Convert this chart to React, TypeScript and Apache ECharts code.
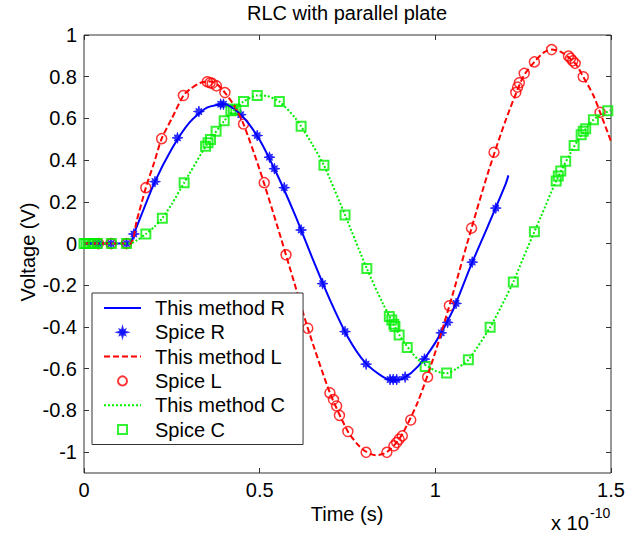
import React, { useEffect, useRef } from 'react';
import * as echarts from 'echarts';

const FONT = '"Liberation Sans", Arial, Helvetica, sans-serif';

const legendNames = ['This method R', 'Spice R', 'This method L', 'Spice L', 'This method C', 'Spice C'];
const xTicks = [0, 0.5, 1, 1.5];
const yTicks = [-1, -0.8, -0.6, -0.4, -0.2, 0, 0.2, 0.4, 0.6, 0.8, 1];

const methodR: [number, number][] = [
  [0, 0], [0.13, 0], [0.142, 0.046], [0.2, 0.29], [0.25, 0.455], [0.3, 0.58], [0.35, 0.652], [0.4, 0.668],
  [0.45, 0.612], [0.5, 0.497], [0.55, 0.33], [0.6, 0.14], [0.65, -0.07], [0.7, -0.27], [0.75, -0.445],
  [0.8, -0.57], [0.85, -0.638], [0.88, -0.655], [0.91, -0.645], [0.95, -0.59], [1.0, -0.475], [1.05, -0.32],
  [1.1, -0.11], [1.15, 0.085], [1.2, 0.285], [1.208, 0.327],
];
const spiceR: [number, number][] = [
  [0.041, 0], [0.077, 0], [0.121, 0], [0.142, 0.046], [0.202, 0.297], [0.266, 0.507], [0.327, 0.633],
  [0.389, 0.668], [0.397, 0.668], [0.446, 0.618], [0.493, 0.518], [0.528, 0.414], [0.542, 0.359],
  [0.57, 0.268], [0.618, 0.065], [0.679, -0.192], [0.743, -0.422], [0.803, -0.578], [0.871, -0.652],
  [0.88, -0.652], [0.89, -0.652], [0.914, -0.64], [0.969, -0.554], [1.017, -0.428], [1.035, -0.378],
  [1.059, -0.287], [1.105, -0.089], [1.172, 0.17],
];
const methodL: [number, number][] = [
  [0, 0], [0.13, 0], [0.15, 0.11], [0.176, 0.268], [0.2, 0.39], [0.221, 0.503], [0.25, 0.6], [0.283, 0.71],
  [0.3, 0.738], [0.33, 0.77], [0.36, 0.777], [0.38, 0.762], [0.4, 0.726], [0.43, 0.655], [0.454, 0.573],
  [0.5, 0.354], [0.55, 0.085], [0.6, -0.196], [0.637, -0.406], [0.7, -0.716], [0.751, -0.901], [0.78, -0.965],
  [0.803, -0.998], [0.83, -1.015], [0.862, -1.0], [0.9, -0.93], [0.95, -0.76], [1.0, -0.52], [1.05, -0.24],
  [1.103, 0.074], [1.15, 0.34], [1.2, 0.59], [1.25, 0.8], [1.282, 0.871], [1.31, 0.918], [1.331, 0.93],
  [1.36, 0.917], [1.398, 0.864], [1.421, 0.8], [1.45, 0.71], [1.469, 0.629], [1.5, 0.49],
];
const spiceL: [number, number][] = [
  [0.041, 0], [0.077, 0], [0.121, 0], [0.176, 0.268], [0.221, 0.503], [0.283, 0.71], [0.351, 0.776],
  [0.359, 0.771], [0.365, 0.768], [0.377, 0.756], [0.401, 0.724], [0.454, 0.573], [0.513, 0.292],
  [0.575, -0.054], [0.637, -0.406], [0.7, -0.716], [0.71, -0.748], [0.719, -0.779], [0.727, -0.824],
  [0.751, -0.901], [0.803, -1.001], [0.862, -1.001], [0.882, -0.97], [0.89, -0.954], [0.897, -0.938],
  [0.906, -0.922], [0.93, -0.846], [0.978, -0.64], [1.04, -0.298], [1.103, 0.074], [1.167, 0.438],
  [1.229, 0.724], [1.234, 0.75], [1.239, 0.771], [1.253, 0.816], [1.282, 0.871], [1.331, 0.93],
  [1.379, 0.899], [1.385, 0.888], [1.391, 0.876], [1.398, 0.864], [1.421, 0.8], [1.469, 0.629],
];
const methodC: [number, number][] = [
  [0, 0], [0.13, 0], [0.15, 0.015], [0.176, 0.046], [0.2, 0.08], [0.223, 0.122], [0.25, 0.19], [0.285, 0.292],
  [0.3, 0.335], [0.35, 0.475], [0.4, 0.59], [0.43, 0.645], [0.454, 0.681], [0.493, 0.71], [0.52, 0.708],
  [0.556, 0.681], [0.6, 0.605], [0.618, 0.562], [0.65, 0.475], [0.683, 0.375], [0.7, 0.31], [0.743, 0.137],
  [0.805, -0.12], [0.85, -0.285], [0.9, -0.445], [0.95, -0.555], [1.0, -0.61], [1.032, -0.622], [1.06, -0.6],
  [1.094, -0.557], [1.156, -0.401], [1.2, -0.26], [1.222, -0.184], [1.25, -0.07], [1.282, 0.057],
  [1.3, 0.127], [1.344, 0.3], [1.4, 0.48], [1.45, 0.594], [1.5, 0.64],
];
const spiceC: [number, number][] = [
  [0, 0], [0.006, 0], [0.012, 0], [0.018, 0], [0.024, 0], [0.03, 0], [0.038, 0], [0.078, 0], [0.121, 0],
  [0.176, 0.046], [0.223, 0.122], [0.285, 0.292], [0.346, 0.467], [0.353, 0.483], [0.36, 0.499],
  [0.376, 0.538], [0.399, 0.589], [0.418, 0.637], [0.425, 0.645], [0.432, 0.641], [0.454, 0.681],
  [0.493, 0.71], [0.556, 0.681], [0.618, 0.562], [0.683, 0.375], [0.743, 0.137], [0.805, -0.12],
  [0.869, -0.35], [0.876, -0.367], [0.882, -0.387], [0.885, -0.398], [0.897, -0.438], [0.92, -0.498],
  [0.971, -0.589], [1.032, -0.62], [1.094, -0.557], [1.156, -0.401], [1.222, -0.184], [1.282, 0.057],
  [1.344, 0.3], [1.35, 0.324], [1.357, 0.348], [1.371, 0.395], [1.395, 0.47], [1.415, 0.522],
  [1.421, 0.538], [1.428, 0.551], [1.45, 0.594], [1.491, 0.637],
];

function starPath(): string {
  const pts: string[] = [];
  for (let k = 0; k < 16; k++) {
    const a = (k * Math.PI) / 8 - Math.PI / 2;
    const r = k % 2 === 0 ? (k % 4 === 0 ? 6 : 4.8) : 2.6;
    pts.push(`${(r * Math.cos(a)).toFixed(3)},${(r * Math.sin(a)).toFixed(3)}`);
  }
  return 'path://M' + pts.join(' L') + ' Z';
}
const SQUARE = 'path://M0,0 L10,0 L10,10 L0,10 Z';

const BLUE = '#0000ff';
const RED = '#ff0000';
const GREEN = '#00ee00';
const AXIS = '#333333';

export default function App() {
  const ref = useRef<HTMLDivElement>(null);
  useEffect(() => {
    const chart = echarts.init(ref.current!, null, { renderer: 'svg' });
    const fmt = (v: number) => String(Math.round(v * 10) / 10);
    const tickStyle = { inside: true, length: 5, lineStyle: { color: AXIS, width: 1 } };
    const lineLegend = { itemStyle: { opacity: 0 } };
    const option: any = {
      animation: false,
      backgroundColor: '#ffffff',
      textStyle: { fontFamily: FONT },
      grid: {
        left: 84, right: 28, top: 35, bottom: 60,
        show: true, borderColor: AXIS, borderWidth: 1, backgroundColor: '#fff',
      },
      xAxis: [
        {
          type: 'value', min: 0, max: 1.5,
          axisLine: { show: false, onZero: false }, splitLine: { show: false },
          axisTick: { ...tickStyle, customValues: xTicks },
          axisLabel: { margin: 7, fontSize: 20, color: '#000', fontFamily: FONT, customValues: xTicks, formatter: fmt },
        },
        {
          type: 'value', position: 'top', min: 0, max: 1.5,
          axisLine: { show: false, onZero: false }, splitLine: { show: false },
          axisTick: { ...tickStyle, customValues: xTicks }, axisLabel: { show: false },
        },
      ],
      yAxis: [
        {
          type: 'value', min: -1.1, max: 1,
          axisLine: { show: false, onZero: false }, splitLine: { show: false },
          axisTick: { ...tickStyle, customValues: yTicks },
          axisLabel: { margin: 7, fontSize: 20, color: '#000', fontFamily: FONT, customValues: yTicks, formatter: fmt },
        },
        {
          type: 'value', position: 'right', min: -1.1, max: 1,
          axisLine: { show: false, onZero: false }, splitLine: { show: false },
          axisTick: { ...tickStyle, customValues: yTicks }, axisLabel: { show: false },
        },
      ],
      legend: {
        orient: 'vertical', left: 92, top: 293,
        data: [
          { name: legendNames[0], ...lineLegend },
          { name: legendNames[1] },
          { name: legendNames[2], ...lineLegend },
          { name: legendNames[3] },
          { name: legendNames[4], ...lineLegend },
          { name: legendNames[5] },
        ],
        backgroundColor: '#fff', borderColor: AXIS, borderWidth: 1,
        padding: [5, 18, 5, 11],
        itemWidth: 37, itemHeight: 9, itemGap: 4.3,
        textStyle: { fontSize: 20, color: '#000', fontFamily: FONT, padding: [0, 0, 0, 9] },
      },
      graphic: [
        {
          type: 'text', x: 347, y: 13,
          style: { text: 'RLC with parallel plate', fill: '#000', fontSize: 20, fontFamily: FONT,
            align: 'center', verticalAlign: 'middle', textAlign: 'center', textVerticalAlign: 'middle' },
        },
        {
          type: 'text', x: 347, y: 514,
          style: { text: 'Time (s)', fill: '#000', fontSize: 20, fontFamily: FONT,
            align: 'center', verticalAlign: 'middle', textAlign: 'center', textVerticalAlign: 'middle' },
        },
        {
          type: 'text', x: 28, y: 252, rotation: Math.PI / 2,
          style: { text: 'Voltage (V)', fill: '#000', fontSize: 20, fontFamily: FONT,
            align: 'center', verticalAlign: 'middle', textAlign: 'center', textVerticalAlign: 'middle' },
        },
        {
          type: 'text', x: 551, y: 523,
          style: { text: 'x 10', fill: '#000', fontSize: 20, fontFamily: FONT,
            align: 'left', verticalAlign: 'middle', textAlign: 'left', textVerticalAlign: 'middle' },
        },
        {
          type: 'text', x: 590, y: 513,
          style: { text: '-10', fill: '#000', fontSize: 14, fontFamily: FONT,
            align: 'left', verticalAlign: 'middle', textAlign: 'left', textVerticalAlign: 'middle' },
        },
      ],
      series: [
        {
          name: 'This method R', type: 'line', data: methodR, showSymbol: false,
          smooth: 0.25, lineStyle: { color: BLUE, width: 2, type: 'solid' }, itemStyle: { color: BLUE },
        },
        {
          name: 'Spice R', type: 'scatter', data: spiceR, symbol: starPath(), symbolSize: 11, symbolKeepAspect: true,
          itemStyle: { color: BLUE, borderColor: BLUE, borderWidth: 0.8 },
        },
        {
          name: 'This method L', type: 'line', data: methodL, showSymbol: false,
          smooth: 0.25, lineStyle: { color: RED, width: 2, type: [6, 3] }, itemStyle: { color: RED },
        },
        {
          name: 'Spice L', type: 'scatter', data: spiceL, symbol: 'circle', symbolSize: 10,
          itemStyle: { color: 'rgba(255,255,255,0)', borderColor: RED, borderWidth: 1.5 },
        },
        {
          name: 'This method C', type: 'line', data: methodC, showSymbol: false,
          smooth: 0.25, lineStyle: { color: GREEN, width: 2, type: [2, 2] }, itemStyle: { color: GREEN },
        },
        {
          name: 'Spice C', type: 'scatter', data: spiceC, symbol: SQUARE, symbolSize: 9, symbolKeepAspect: true,
          itemStyle: { color: 'rgba(255,255,255,0)', borderColor: GREEN, borderWidth: 2 },
        },
      ],
    };
    chart.setOption(option);
    return () => chart.dispose();
  }, []);
  return <div ref={ref} style={{ position: 'absolute', left: 0, top: 0, width: 639, height: 533 }} />;
}
